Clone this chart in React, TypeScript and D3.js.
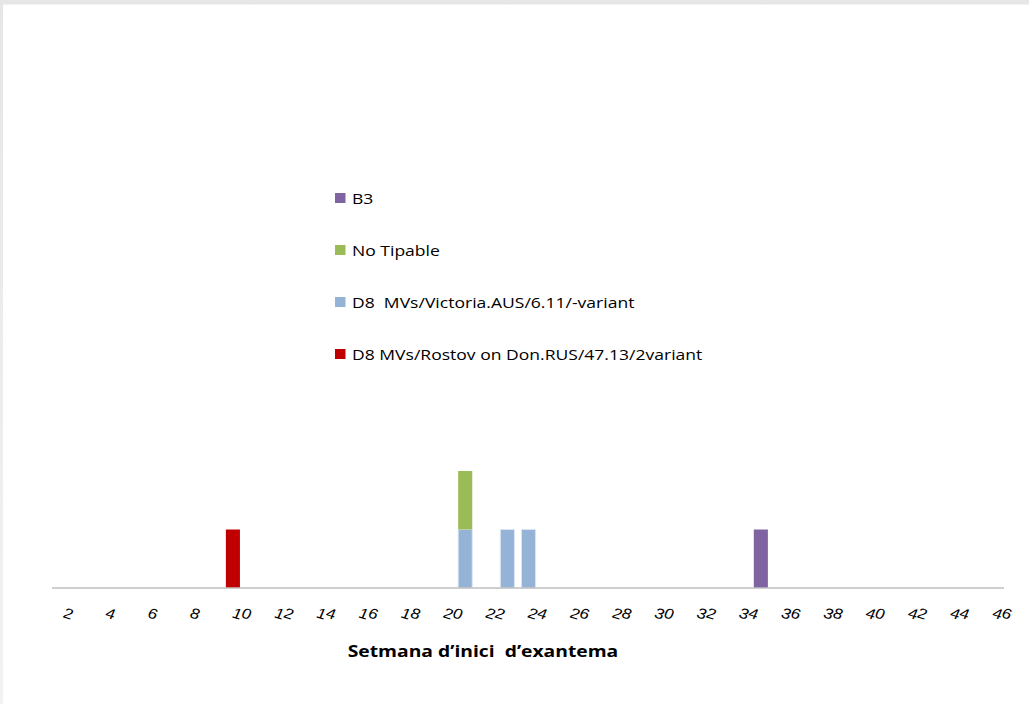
import React from "react";
import * as d3 from "d3";

// Onset week categories shown on the axis
const weeks = [
  2, 3, 4, 5, 6, 7, 8, 9, 10, 11, 12, 13, 14, 15, 16, 17, 18, 19, 20, 21, 22, 23,
  24, 25, 26, 27, 28, 29, 30, 31, 32, 33, 34, 35, 36, 37, 38, 39, 40, 41, 42, 43,
  44, 45, 46,
];
const tickWeeks = [2, 4, 6, 8, 10, 12, 14, 16, 18, 20, 22, 24, 26, 28, 30, 32, 34, 36, 38, 40, 42, 44, 46];

// Cases per genotype and onset week
const rostovCases = [{ week: 10, n: 1 }];
const victoriaCases = [
  { week: 21, n: 1 },
  { week: 23, n: 1 },
  { week: 24, n: 1 },
];
const noTipableCases = [{ week: 21, n: 1 }];
const b3Cases = [{ week: 35, n: 1 }];

const seriesKeys = ["rostov", "victoria", "noTipable", "b3"];
const seriesNames: Record<string, string> = {
  rostov: "D8 MVs/Rostov on Don.RUS/47.13/2variant",
  victoria: "D8  MVs/Victoria.AUS/6.11/-variant",
  noTipable: "No Tipable",
  b3: "B3",
};
const seriesColors: Record<string, string> = {
  rostov: "#C00000",
  victoria: "#95B3D7",
  noTipable: "#9BBB59",
  b3: "#8064A2",
};
const legendOrder = ["b3", "noTipable", "victoria", "rostov"];

const axisTitle = "Setmana d\u2019inici  d\u2019exantema";

// Text in this chart is drawn slightly widened
const SX = 1.17;

export default function App() {
  const W = 1029;
  const H = 704;

  const lookup: Record<string, { week: number; n: number }[]> = {
    rostov: rostovCases,
    victoria: victoriaCases,
    noTipable: noTipableCases,
    b3: b3Cases,
  };
  const table = weeks.map((w) => {
    const row: Record<string, number> = { week: w };
    seriesKeys.forEach((k) => {
      const hit = lookup[k].find((d) => d.week === w);
      row[k] = hit ? hit.n : 0;
    });
    return row;
  });
  const stacked = d3.stack<Record<string, number>>().keys(seriesKeys)(table);

  const x = d3
    .scaleBand<number>()
    .domain(weeks)
    .range([53.4, 1003.7])
    .paddingInner(1 / 3)
    .paddingOuter(1 / 6);
  const y = d3.scaleLinear().domain([0, 6]).range([588, 237]);

  const bw = x.bandwidth();
  const sans = "'Open Sans', 'Noto Sans', sans-serif";

  return (
    <svg
      width={W}
      height={H}
      style={{ position: "absolute", left: 0, top: 0, display: "block" }}
    >
      <defs>
        <linearGradient id="topShade" x1="0" y1="0" x2="0" y2="1">
          <stop offset="0" stopColor="#e6e6e6" />
          <stop offset="1" stopColor="#f2f2f2" />
        </linearGradient>
      </defs>
      <rect x={0} y={0} width={W} height={H} fill="url(#topShade)" />
      <rect x={3} y={4.5} width={W - 3} height={H - 4.5} fill="#ffffff" />

      {stacked.map((layer) => (
        <g key={layer.key}>
          {layer.map((seg, i) => {
            if (seg[1] - seg[0] <= 0) return null;
            const wk = weeks[i];
            const isBlue = layer.key === "victoria";
            return (
              <rect
                key={wk}
                x={x(wk)!}
                y={y(seg[1])}
                width={bw}
                height={y(seg[0]) - y(seg[1])}
                fill={seriesColors[layer.key]}
                stroke={isBlue ? "#dbe5f1" : "none"}
                strokeWidth={isBlue ? 1 : 0}
              />
            );
          })}
        </g>
      ))}

      <line x1={52} x2={1004} y1={588} y2={588} stroke="#bfbfbf" strokeWidth={1.6} />

      {tickWeeks.map((w) => (
        <g key={w} transform={`translate(${x(w)! + bw / 2 - 2},617) scale(${SX},1)`}>
          <text
            x={0}
            y={0}
            rotate="20"
            fontFamily="'Liberation Sans', Arial, sans-serif"
            fontSize={14.5}
            fill="#000"
          >
            {w}
          </text>
        </g>
      ))}

      <g transform={`translate(483,657) scale(${SX},1)`}>
        <text
          x={0}
          y={0}
          textAnchor="middle"
          fontFamily={sans}
          fontWeight={700}
          fontSize={16.5}
          fill="#000"
          style={{ whiteSpace: "pre" }}
        >
          {axisTitle}
        </text>
      </g>

      {legendOrder.map((k, i) => {
        const cy = 198 + i * 52;
        return (
          <g key={k}>
            <rect x={335} y={cy - 5} width={10.5} height={10} fill={seriesColors[k]} />
            <g transform={`translate(352,${cy + 5.5}) scale(${SX},1)`}>
              <text
                x={0}
                y={0}
                fontFamily={sans}
                fontSize={15}
                fill="#000"
                style={{ whiteSpace: "pre" }}
              >
                {seriesNames[k]}
              </text>
            </g>
          </g>
        );
      })}
    </svg>
  );
}
